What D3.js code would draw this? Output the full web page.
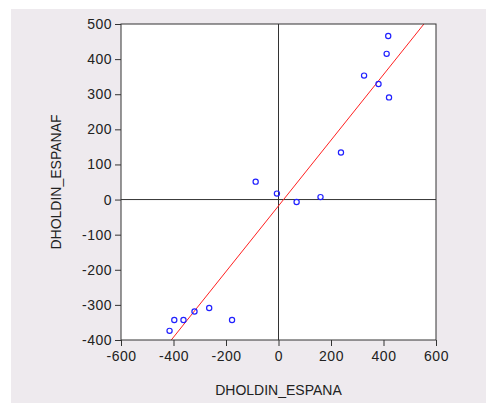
<!DOCTYPE html>
<html>
<head>
<meta charset="utf-8">
<script src="https://cdn.jsdelivr.net/npm/d3@7"></script>
<style>
    html, body { margin: 0; padding: 0; background: #fff; }
    svg { display: block; }
    text { font-family: "Liberation Sans", Arial, sans-serif; fill: #222; }
</style>
</head>
<body>
<svg id="chart" width="486" height="403"></svg>
<script>
    // values
    var espana = [418, 412, 326, 381, 421, 238, -87, -6, 69, 160, -415, -397, -362, -320, -264, -177];
    var espanaf = [466, 415, 353, 329, 291, 134, 51, 17, -7, 7, -374, -343, -343, -319, -309, -343];
    var xTicks = [-600, -400, -200, 0, 200, 400, 600];
    var yTicks = [-400, -300, -200, -100, 0, 100, 200, 300, 400, 500];
    var fitLine = { slope: 0.935, intercept: -18 };

    (function () {
        "use strict";

        var svg = d3.select("#chart");
        var left = 121, right = 436, top = 24, bottom = 340;

        var x = d3.scaleLinear().domain([-600, 600]).range([left, right]);
        var y = d3.scaleLinear().domain([-400, 500]).range([bottom, top]);

        svg.append("rect")
            .attr("x", 11).attr("y", 9)
            .attr("width", 475).attr("height", 394)
            .attr("fill", "#eeeaee");

        svg.append("rect")
            .attr("x", left).attr("y", top)
            .attr("width", right - left).attr("height", bottom - top)
            .attr("fill", "#fff");

        svg.append("clipPath").attr("id", "plot")
            .append("rect")
            .attr("x", left).attr("y", top)
            .attr("width", right - left).attr("height", bottom - top);

        // reference lines at zero
        svg.append("line")
            .attr("x1", x(0)).attr("x2", x(0))
            .attr("y1", top).attr("y2", bottom)
            .attr("stroke", "#333").attr("stroke-width", 1);
        svg.append("line")
            .attr("x1", left).attr("x2", right)
            .attr("y1", y(0)).attr("y2", y(0))
            .attr("stroke", "#333").attr("stroke-width", 1);

        // fit line, clipped to the frame
        var fx = [-600, 600];
        svg.append("line")
            .attr("clip-path", "url(#plot)")
            .attr("x1", x(fx[0])).attr("y1", y(fitLine.slope * fx[0] + fitLine.intercept))
            .attr("x2", x(fx[1])).attr("y2", y(fitLine.slope * fx[1] + fitLine.intercept))
            .attr("stroke", "#ff2020").attr("stroke-width", 1);

        svg.append("g")
            .selectAll("circle")
            .data(d3.range(espana.length))
            .enter()
            .append("circle")
            .attr("cx", function (i) { return x(espana[i]); })
            .attr("cy", function (i) { return y(espanaf[i]); })
            .attr("r", 2.6)
            .attr("fill", "none")
            .attr("stroke", "#2020ff")
            .attr("stroke-width", 1.2);

        svg.append("rect")
            .attr("x", left).attr("y", top)
            .attr("width", right - left).attr("height", bottom - top)
            .attr("fill", "none")
            .attr("stroke", "#333").attr("stroke-width", 1);

        var xAxis = svg.append("g")
            .attr("transform", "translate(0," + bottom + ")")
            .call(d3.axisBottom(x).tickValues(xTicks).tickSize(6).tickPadding(5).tickFormat(String));
        var yAxis = svg.append("g")
            .attr("transform", "translate(" + left + ",0)")
            .call(d3.axisLeft(y).tickValues(yTicks).tickSize(6).tickPadding(3).tickFormat(String));

        [xAxis, yAxis].forEach(function (a) {
            a.select(".domain").remove();
            a.selectAll("line").attr("stroke", "#333");
            a.selectAll("text")
                .attr("font-family", "'Liberation Sans', Arial, sans-serif")
                .attr("font-size", 14)
                .attr("letter-spacing", 0.5)
                .attr("fill", "#222");
        });

        svg.append("text")
            .attr("x", (left + right) / 2).attr("y", 395)
            .attr("text-anchor", "middle")
            .attr("font-size", 14)
            .text("DHOLDIN_ESPANA");

        svg.append("text")
            .attr("transform", "translate(61," + (top + bottom) / 2 + ") rotate(-90)")
            .attr("text-anchor", "middle")
            .attr("font-size", 14)
            .text("DHOLDIN_ESPANAF");
    })();
</script>
</body>
</html>
